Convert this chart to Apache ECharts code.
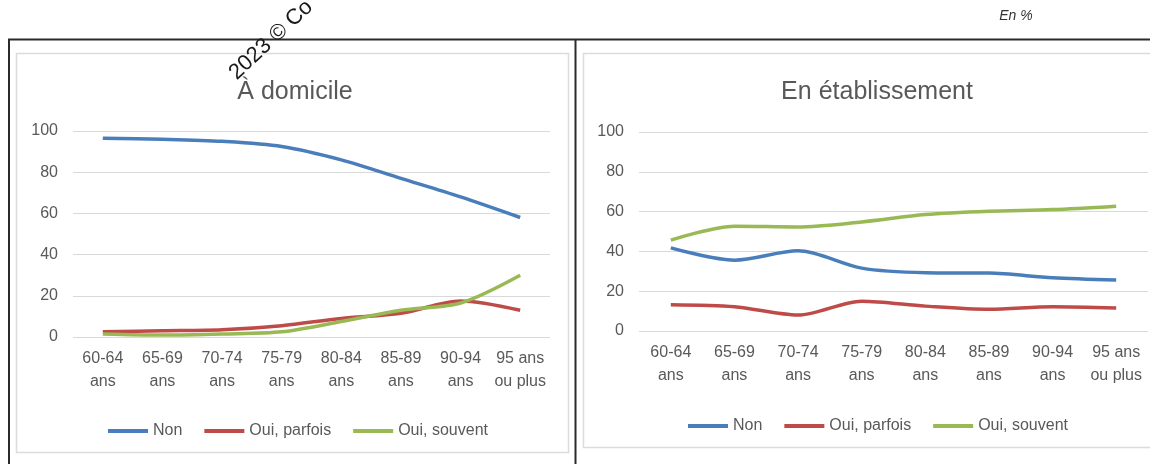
<!DOCTYPE html>
<html>
<head>
<meta charset="utf-8">
<script src="https://cdn.jsdelivr.net/npm/echarts@6/dist/echarts.min.js"></script>
<style>
  html, body { margin: 0; padding: 0; background: #fff; }
  #chart { width: 1150px; height: 464px; }
</style>
</head>
<body>
<div id="chart"></div>
<script>
// Age groups shared by both panels
const categories = ['60-64\nans', '65-69\nans', '70-74\nans', '75-79\nans', '80-84\nans', '85-89\nans', '90-94\nans', '95 ans\nou plus'];
const yTicks = [0, 20, 40, 60, 80, 100];
const seriesNames = ['Non', 'Oui, parfois', 'Oui, souvent'];

// À domicile (en %)
const domicileNon = [96.5, 96, 95, 92.5, 86, 77, 68, 58];
const domicileParfois = [2.5, 3, 3.5, 5.5, 9, 11.5, 17.5, 13];
const domicileSouvent = [1.5, 1, 1.5, 2.5, 7.5, 13, 16.5, 30];

// En établissement (en %)
const etabNon = [41.8, 35.6, 40.3, 31.6, 29.3, 29.1, 26.8, 25.6];
const etabParfois = [13.2, 12.2, 8, 15, 12.5, 10.9, 12.2, 11.5];
const etabSouvent = [45.7, 52.7, 52.3, 54.8, 58.5, 60.2, 61, 62.7];

const colors = ['#4A7EBB', '#BE4B48', '#98B954'];
const FONT = '"Liberation Sans", Arial, sans-serif';
const TXT = '#595959';

const chart = echarts.init(document.getElementById('chart'), null, { renderer: 'canvas' });

function xAxis(gridIndex) {
  return {
    type: 'category', gridIndex, data: categories, boundaryGap: true,
    axisLine: { show: false }, axisTick: { show: false },
    axisLabel: { color: TXT, fontFamily: FONT, fontSize: 16, lineHeight: 23, margin: 10, interval: 0 }
  };
}
function yAxis(gridIndex) {
  return {
    type: 'value', gridIndex, min: yTicks[0], max: yTicks[yTicks.length - 1], interval: 20,
    axisLine: { show: false }, axisTick: { show: false },
    axisLabel: { color: TXT, fontFamily: FONT, fontSize: 16, margin: 15 },
    splitLine: { lineStyle: { color: '#d9d9d9', width: 1 } }
  };
}
function line(name, data, idx, gi) {
  return {
    type: 'line', name, data, xAxisIndex: gi, yAxisIndex: gi,
    smooth: 0.3, symbol: 'none',
    lineStyle: { color: colors[idx], width: 3.5 },
    itemStyle: { color: colors[idx] }
  };
}
function legend(left, top) {
  return {
    data: seriesNames, left, top, icon: 'rect', itemWidth: 40, itemHeight: 4, itemGap: 22,
    textStyle: { color: TXT, fontFamily: FONT, fontSize: 16 },
    selectedMode: false
  };
}

chart.setOption({
  animation: false,
  title: [
    { text: 'À domicile', left: 290, top: 75, textAlign: 'center',
      textStyle: { color: TXT, fontFamily: FONT, fontSize: 25, fontWeight: 'normal' } },
    { text: 'En établissement', left: 872, top: 75, textAlign: 'center',
      textStyle: { color: TXT, fontFamily: FONT, fontSize: 25, fontWeight: 'normal' } }
  ],
  grid: [
    { left: 73, width: 477, top: 131, height: 206 },
    { left: 639, width: 509, top: 132, height: 199 }
  ],
  xAxis: [xAxis(0), xAxis(1)],
  yAxis: [yAxis(0), yAxis(1)],
  legend: [legend(103, 418), legend(683, 413)],
  series: [
    line('Non', domicileNon, 0, 0),
    line('Oui, parfois', domicileParfois, 1, 0),
    line('Oui, souvent', domicileSouvent, 2, 0),
    line('Non', etabNon, 0, 1),
    line('Oui, parfois', etabParfois, 1, 1),
    line('Oui, souvent', etabSouvent, 2, 1)
  ],
  graphic: [
    // table frame around the two panels
    { type: 'line', shape: { x1: 8, y1: 39.5, x2: 1150, y2: 39.5 }, style: { stroke: '#2b2b2b', lineWidth: 2 }, z: 1 },
    { type: 'line', shape: { x1: 9, y1: 39, x2: 9, y2: 464 }, style: { stroke: '#2b2b2b', lineWidth: 2 }, z: 1 },
    { type: 'line', shape: { x1: 575.5, y1: 39, x2: 575.5, y2: 464 }, style: { stroke: '#2b2b2b', lineWidth: 2 }, z: 1 },
    // light chart-area borders
    { type: 'rect', shape: { x: 16.5, y: 53.5, width: 552, height: 399 }, style: { fill: null, stroke: '#dcdcdc', lineWidth: 1.5 }, z: 0 },
    { type: 'rect', shape: { x: 583.5, y: 53.5, width: 600, height: 394 }, style: { fill: null, stroke: '#dcdcdc', lineWidth: 1.5 }, z: 0 },
    // unit note
    { type: 'text', x: 1016, y: 16, style: { text: 'En %', fill: '#333', font: 'italic 14px "Liberation Sans", Arial', textAlign: 'center', textVerticalAlign: 'middle' }, z: 5 },
    // rotated copyright stamp
    { type: 'text', x: 240, y: 84, rotation: 43 * Math.PI / 180,
      style: { text: '2023 © Co', fill: '#1a1a1a', font: '22px "Liberation Sans", Arial', textAlign: 'left', textVerticalAlign: 'bottom' }, z: 100 }
  ]
});
</script>
</body>
</html>
